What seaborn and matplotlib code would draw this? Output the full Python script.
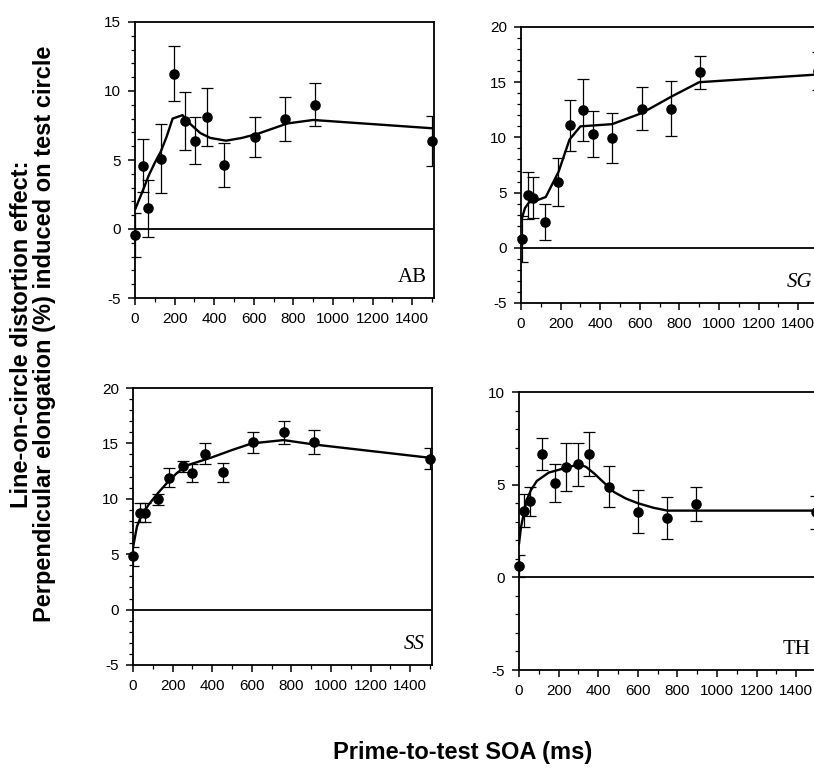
import numpy as np
import pandas as pd
import matplotlib
matplotlib.use("Agg")
import matplotlib.pyplot as plt
import seaborn as sns
from matplotlib.ticker import MultipleLocator

sns.set_theme(style="ticks")
plt.rcParams['font.family'] = ['Liberation Sans', 'DejaVu Sans']
plt.rcParams['axes.unicode_minus'] = False

# ---------------- data ----------------
panels = ["AB", "SG", "SS", "TH"]

ab_soa = [0, 40, 65, 130, 195, 255, 305, 365, 450, 605, 760, 910, 1500]
ab_mean = [-0.45, 4.6, 1.5, 5.1, 11.25, 7.8, 6.4, 8.1, 4.65, 6.7, 7.95, 9.0, 6.4]
ab_err = [1.6, 1.9, 2.05, 2.5, 2.0, 2.1, 1.7, 2.1, 1.6, 1.45, 1.6, 1.55, 1.8]
ab_fit_x = [0, 40, 70, 100, 130, 160, 190, 240, 280, 330, 380, 460, 540, 620, 700, 770, 900, 1500]
ab_fit_y = [1.4, 2.8, 3.9, 4.8, 5.6, 6.7, 8.0, 8.25, 7.6, 6.95, 6.6, 6.4, 6.6, 6.9, 7.3, 7.65, 7.9, 7.3]

sg_soa = [5, 34, 60, 123, 187, 245, 311, 363, 462, 610, 756, 904, 1500]
sg_mean = [0.8, 4.75, 4.55, 2.35, 5.95, 11.1, 12.5, 10.3, 9.95, 12.6, 12.6, 15.9, 16.0]
sg_err = [2.1, 2.1, 1.85, 1.6, 2.15, 2.3, 2.8, 2.1, 2.3, 1.95, 2.5, 1.5, 1.75]
sg_fit_x = [0, 20, 40, 80, 125, 190, 245, 300, 460, 610, 760, 900, 1500]
sg_fit_y = [2.4, 3.6, 4.1, 4.3, 4.6, 6.9, 9.8, 11.0, 11.2, 12.2, 13.7, 15.0, 15.7]

ss_soa = [0, 37, 63, 125, 183, 250, 300, 363, 455, 605, 762, 913, 1500]
ss_mean = [4.8, 8.75, 8.75, 9.95, 11.9, 12.95, 12.3, 14.05, 12.4, 15.1, 16.0, 15.15, 13.6]
ss_err = [0.85, 0.85, 0.85, 0.5, 0.85, 0.5, 0.8, 0.95, 0.85, 0.95, 1.05, 1.1, 0.95]
ss_fit_x = [0, 20, 40, 80, 130, 180, 220, 270, 400, 500, 600, 760, 915, 1500]
ss_fit_y = [5.6, 7.5, 8.4, 9.5, 10.6, 11.6, 12.3, 13.0, 13.75, 14.4, 15.0, 15.3, 14.9, 13.7]

th_soa = [0, 23, 54, 117, 180, 238, 300, 356, 453, 599, 745, 896, 1500]
th_mean = [0.6, 3.6, 4.1, 6.65, 5.1, 5.95, 6.1, 6.65, 4.9, 3.55, 3.2, 3.95, 3.5]
th_err = [0.6, 0.9, 0.8, 0.85, 1.03, 1.3, 1.15, 1.2, 1.13, 1.17, 1.12, 0.9, 0.9]
th_fit_x = [0, 10, 25, 40, 60, 90, 150, 250, 305, 340, 380, 430, 480, 540, 600, 680, 750, 1500]
th_fit_y = [1.8, 2.7, 3.5, 4.2, 4.7, 5.2, 5.65, 5.95, 6.1, 5.95, 5.6, 5.1, 4.6, 4.25, 4.0, 3.75, 3.6, 3.6]

ylims = {"AB": (-5, 15), "SG": (-5, 20), "SS": (-5, 20), "TH": (-5, 10)}
italic = {"AB": False, "SG": True, "SS": True, "TH": False}

data = {
    "AB": (ab_soa, ab_mean, ab_err, ab_fit_x, ab_fit_y),
    "SG": (sg_soa, sg_mean, sg_err, sg_fit_x, sg_fit_y),
    "SS": (ss_soa, ss_mean, ss_err, ss_fit_x, ss_fit_y),
    "TH": (th_soa, th_mean, th_err, th_fit_x, th_fit_y),
}

# ---------------- figure ----------------
W, H = 814, 776
fig = plt.figure(figsize=(W / 100, H / 100), dpi=100)

# axes boxes in pixels: left, top, width, height
boxes = {
    "AB": (135, 22, 299, 276),
    "SG": (521, 27, 299, 276),
    "SS": (133, 388, 299, 277),
    "TH": (519, 392, 299, 278),
}

for name in panels:
    l, t, w, h = boxes[name]
    ax = fig.add_axes([l / W, 1 - (t + h) / H, w / W, h / H])
    soa, mean, err, fx, fy = data[name]
    df = pd.DataFrame({"soa": soa, "mean": mean, "err": err})
    fit = pd.DataFrame({"soa": fx, "fit": fy})

    ax.axhline(0, color="black", lw=1.3, zorder=1)
    ax.errorbar(df["soa"], df["mean"], yerr=df["err"], fmt="none",
                ecolor="black", elinewidth=0.9, capsize=4, capthick=0.9, zorder=2)
    sns.lineplot(data=fit, x="soa", y="fit", ax=ax, color="black", lw=1.7,
                 sort=False, estimator=None, zorder=3)
    sns.scatterplot(data=df, x="soa", y="mean", ax=ax, color="black", s=58,
                    edgecolor="black", linewidth=0, zorder=4, clip_on=False)

    ax.set_xlim(0, 1510)
    ax.set_ylim(*ylims[name])
    ax.xaxis.set_minor_locator(MultipleLocator(100))
    ax.yaxis.set_major_locator(MultipleLocator(5))
    ax.yaxis.set_minor_locator(MultipleLocator(1))
    ax.set_xticks(np.arange(0, 1401, 200))
    ax.tick_params(which="major", direction="out", length=5, width=1.1,
                   labelsize=11, pad=5, colors="black")
    ax.tick_params(which="minor", direction="out", length=3, width=0.9, colors="black")
    for sp in ax.spines.values():
        sp.set_linewidth(1.3)
        sp.set_color("black")
        sp.set_visible(True)
    ax.set_xlabel("")
    ax.set_ylabel("")
    ax.set_facecolor("white")

    ax.text(0.975, 0.04, name, transform=ax.transAxes, ha="right", va="bottom",
            fontsize=15, family=["Liberation Serif", "DejaVu Serif"],
            style="italic" if italic[name] else "normal", color="black")

fig.text(22 / W, 1 - 334 / H, "Line-on-circle distortion effect:", rotation=90,
         ha="center", va="center", fontsize=17, fontweight="bold", color="black")
fig.text(45 / W, 1 - 334 / H, "Perpendicular elongation (%) induced on test circle",
         rotation=90, ha="center", va="center", fontsize=17, fontweight="bold", color="black")
fig.text(463 / W, 1 - 752 / H, "Prime-to-test SOA (ms)", ha="center", va="center",
         fontsize=17, fontweight="bold", color="black")

fig.savefig("out.png", dpi=100, facecolor="white")
